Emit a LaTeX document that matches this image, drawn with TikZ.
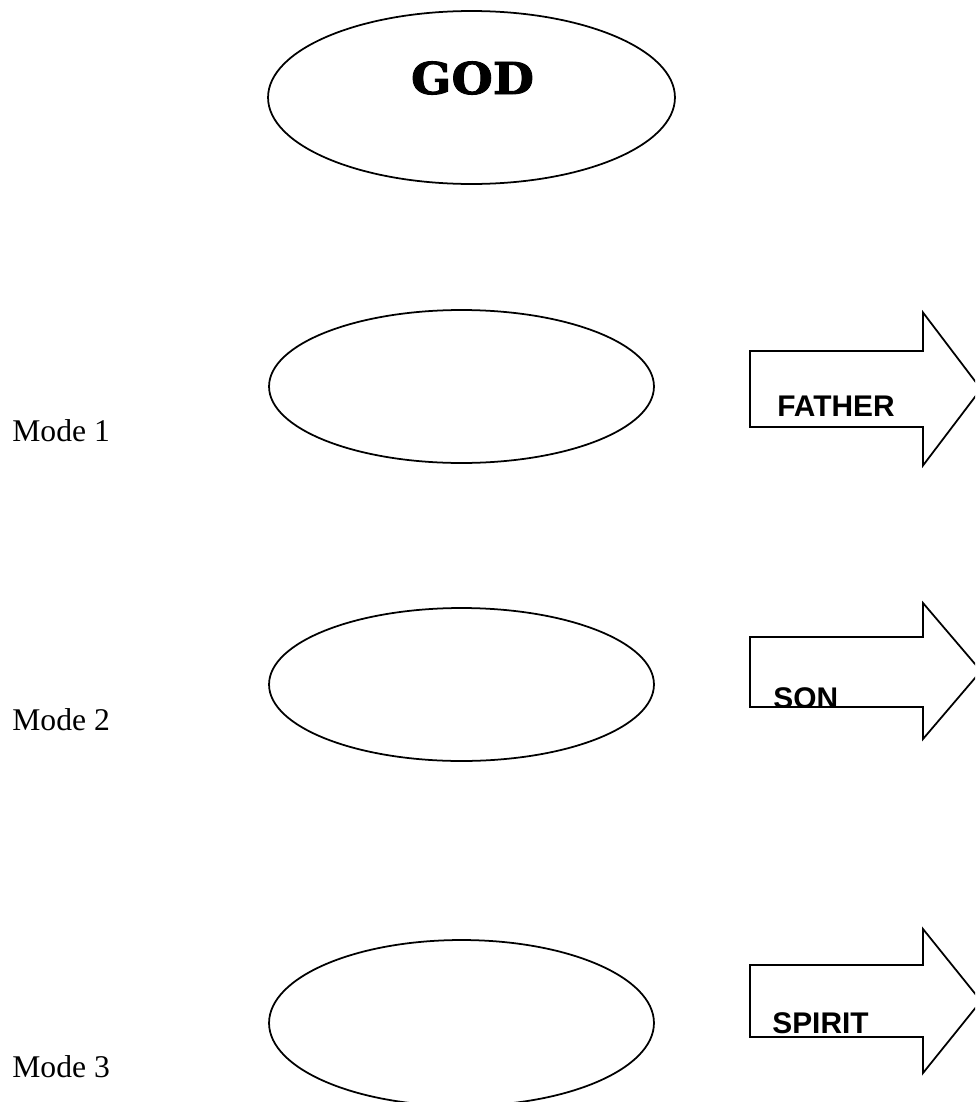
\documentclass[tikz,border=0pt]{standalone}
\usepackage{fontspec}
\setmainfont{Liberation Serif}
\newfontfamily\arrowfont{Liberation Sans}
\newfontfamily\godfont[FakeStretch=1.08, BoldFeatures={FakeBold=2}]{DejaVu Serif}
\usetikzlibrary{shapes.geometric, positioning}

\begin{document}
\begin{tikzpicture}[x=0.02cm, y=-0.02cm,
                oval/.style={ellipse, draw, line width=1pt, minimum width=7.7cm, minimum height=3.06cm, inner sep=0pt},
                blockarrow/.style={draw, line width=1pt, line join=miter},
                arrowtext/.style={anchor=base west, inner sep=0pt, font=\arrowfont\bfseries\fontsize{17}{20}\selectfont},
                modetext/.style={anchor=base west, inner sep=0pt, font=\fontsize{18}{21}\selectfont}]
                \clip (0,0) rectangle (975,1102);
                \fill[white] (0,0) rectangle (975,1102);

                % top oval
                \node[oval, minimum width=8.14cm, minimum height=3.46cm] (god) at (471.5,97.5) {};
                \node[anchor=base, inner sep=0pt, font=\godfont\bfseries\fontsize{25}{30}\selectfont] (godtext) at (472.5,94) {GOD};

                % the three modes
                \node[oval] (mode1) at (461.5,386.5) {};
                \node[oval] (mode2) at (461.5,684.5) {};
                \node[oval, minimum height=3.32cm] (mode3) at (461.5,1023) {};

                \node[modetext] (label1) at (12,441) {Mode 1};
                \node[modetext] (label2) at (12,730) {Mode 2};
                \node[modetext] (label3) at (12,1077) {Mode 3};

                % block arrows
                \draw[blockarrow] (750,351) -- (923,351) -- (923,312.5) -- (981,389) -- (923,465.5) -- (923,427) -- (750,427) -- cycle;
                \node[arrowtext] (father) at (777,416) {FATHER};

                \begin{scope}
                \clip (750,637) rectangle (923,707);
                \node[arrowtext] (son) at (773,708) {SON};
                \end{scope}
                \draw[blockarrow] (750,637) -- (923,637) -- (923,603) -- (981,671) -- (923,739) -- (923,707) -- (750,707) -- cycle;

                \draw[blockarrow] (750,965) -- (923,965) -- (923,929) -- (981,1001) -- (923,1073) -- (923,1037) -- (750,1037) -- cycle;
                \node[arrowtext] (spirit) at (772,1033) {SPIRIT};
            \end{tikzpicture}
\end{document}
